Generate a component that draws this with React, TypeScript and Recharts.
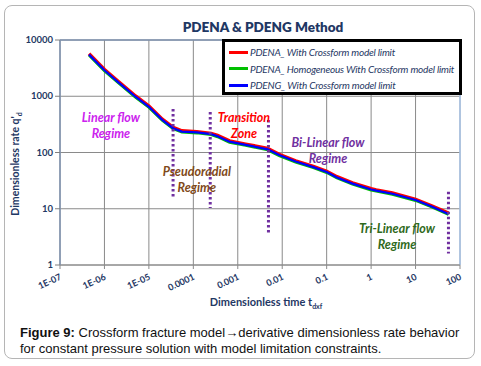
import React from 'react';
import {
  LineChart, Line, XAxis, YAxis, CartesianGrid, Legend, ReferenceLine, ReferenceDot,
} from 'recharts';

const time = [4.5e-7, 1e-6, 2e-6, 5e-6, 1e-5, 2e-5, 3.5e-5, 5.5e-5, 1.2e-4, 2.5e-4, 3.5e-4, 6.5e-4, 1.5e-3, 4.7e-3, 8.5e-3, 2e-2, 5e-2, 0.1, 0.17, 0.38, 1.0, 1.3, 3.0, 10, 23, 55];
const pdenaCross = [5680, 2990, 1860, 1010, 670, 392, 279, 243, 235, 219, 201, 161, 141, 118, 93, 71, 56.7, 46.4, 37.1, 28.9, 22.7, 21.6, 19.1, 14.7, 11.3, 8.35];
const pdenaHomog = [5340, 2810, 1745, 950, 630, 368, 262, 228, 221, 206, 189, 151, 133, 110.5, 87.3, 67, 53.4, 43.7, 34.9, 27.2, 21.3, 20.4, 17.9, 13.9, 10.7, 7.85];
const pdengCross = [5500, 2900, 1800, 980, 650, 380, 270, 235, 228, 212, 195, 156, 137, 114, 90, 69, 55, 45, 36, 28, 22, 21, 18.5, 14.3, 11, 8.1];

const xTicks = [1e-7, 1e-6, 1e-5, 1e-4, 1e-3, 1e-2, 0.1, 1, 10, 100];
const xTickLabels = ['1E-07', '1E-06', '1E-05', '0.0001', '0.001', '0.01', '0.1', '1', '10', '100'];
const yTicks = [1, 10, 100, 1000, 10000];
const yTickLabels = ['1', '10', '100', '1000', '10000'];

const seriesNames = [
  'PDENA_ With Crossform model limit',
  'PDENA_ Homogeneous With Crossform model limit',
  'PDENG_ With Crossform model limit',
];
const seriesColors = ['#ff0000', '#00c000', '#0000ff'];

// regime boundaries: [t, qTop, qBottom]
const boundaries = [
  [3.5e-5, 593, 15.5],
  [2.4e-4, 525, 10.3],
  [4.9e-3, 378, 3.4],
  [55, 20, 1.6],
];

// regime labels: [t, q, line1, line2, color]
const regimes: [number, number, string, string, string][] = [
  [1.4e-6, 308, 'Linear flow', 'Regime', '#cc22ee'],
  [1.2e-4, 33.8, 'Pseudoradial', 'Regime', '#7f4a1a'],
  [1.38e-3, 302, 'Transition', 'Zone', '#ff0000'],
  [0.107, 111, 'Bi-Linear flow', 'Regime', '#7030a0'],
  [3.83, 3.34, 'Tri-Linear flow', 'Regime', '#2f6a1c'],
];

const data = time.map((t, i) => ({
  t,
  a: pdenaCross[i],
  b: pdenaHomog[i],
  c: pdengCross[i],
}));

const NAVY = '#1f3864';
const FONT = 'Lato, "Open Sans", sans-serif';

const XTick = (props: any) => {
  const { x, y, payload } = props;
  const idx = xTicks.findIndex((v) => Math.abs(Math.log10(v) - Math.log10(payload.value)) < 1e-6);
  const label = idx >= 0 ? xTickLabels[idx] : String(payload.value);
  const ax = x + 2;
  const ay = y + 8;
  return (
    <text x={ax} y={ay} transform={`rotate(-25 ${ax} ${ay})`} textAnchor="end"
      fontFamily={FONT} fontSize={9} fontWeight={700} fill={NAVY}>{label}</text>
  );
};

const YTick = (props: any) => {
  const { x, y, payload } = props;
  const idx = yTicks.indexOf(payload.value);
  const label = idx >= 0 ? yTickLabels[idx] : String(payload.value);
  return (
    <text x={x} y={y + 3} textAnchor="end" fontFamily={FONT} fontSize={9.5} fontWeight={700} fill={NAVY}>{label}</text>
  );
};

const LegendBox = () => (
  <div style={{
    border: '3px solid #000', background: '#fff', width: 240, height: 56, boxSizing: 'border-box',
    paddingTop: 2, paddingLeft: 4,
  }}>
    {seriesNames.map((n, i) => (
      <div key={n} style={{ display: 'flex', alignItems: 'center', height: 16.5 }}>
        <div style={{ width: 19, height: 3, background: seriesColors[i], marginRight: 2 }} />
        <span style={{ fontFamily: FONT, fontStyle: 'italic', fontSize: 10, color: NAVY, whiteSpace: 'nowrap', letterSpacing: -0.2 }}>{n}</span>
      </div>
    ))}
  </div>
);

export default function App() {
  return (
    <div style={{ position: 'absolute', left: 0, top: 0, width: 481, height: 366, background: '#fff' }}>
      <div style={{
        position: 'absolute', left: 4, top: 5, width: 469, height: 352,
        border: '1px solid #b5b5b5', borderRadius: 8,
      }} />
      <div style={{
        position: 'absolute', left: 0, top: 19, width: 526, textAlign: 'center',
        fontFamily: FONT, fontWeight: 800, fontSize: 13.5, color: NAVY,
      }}>PDENA &amp; PDENG Method</div>
      <div style={{ position: 'absolute', left: 0, top: 0 }}>
        <LineChart width={481} height={300} data={data} margin={{ top: 40, right: 21, left: 0, bottom: 5 }}>
          <CartesianGrid stroke="#8a8a8a" strokeWidth={1} />
          <XAxis dataKey="t" type="number" scale="log" domain={[1e-7, 100]} ticks={xTicks}
            allowDataOverflow interval={0} height={30} tick={<XTick />} tickSize={4}
            axisLine={{ stroke: '#8a8a8a' }} tickLine={{ stroke: '#8a8a8a' }} />
          <YAxis type="number" scale="log" domain={[1, 10000]} ticks={yTicks} allowDataOverflow
            interval={0} width={60} tick={<YTick />} tickSize={5}
            axisLine={{ stroke: '#7f93b0', strokeWidth: 1.5 }} tickLine={{ stroke: '#7f7f7f' }} />
          <ReferenceLine y={10000} stroke="#7f93b0" strokeWidth={1.5} />
          <ReferenceLine x={100} stroke="#a9c4e8" strokeWidth={1.5} />
          <Legend layout="horizontal" verticalAlign="middle" align="center" content={<LegendBox />}
            wrapperStyle={{ position: 'absolute', left: 222, top: 39, width: 240, height: 56 }} />
          <Line dataKey="a" name={seriesNames[0]} stroke={seriesColors[0]} strokeWidth={3.5} dot={false} isAnimationActive={false} />
          <Line dataKey="b" name={seriesNames[1]} stroke={seriesColors[1]} strokeWidth={2.5} dot={false} isAnimationActive={false} />
          <Line dataKey="c" name={seriesNames[2]} stroke={seriesColors[2]} strokeWidth={2.2} dot={false} isAnimationActive={false} />
          {boundaries.map(([t, q1, q2], i) => (
            <ReferenceLine key={'b' + i} segment={[{ x: t, y: q1 }, { x: t, y: q2 }]}
              stroke="#7030a0" strokeWidth={3} strokeDasharray="2.5 2.5" ifOverflow="visible" />
          ))}
          {regimes.map(([t, q, l1, l2, col], i) => (
            <ReferenceDot key={'r' + i} x={t} y={q} r={0} ifOverflow="visible"
              shape={(p: any) => (
                <g>
                  <text x={p.cx} y={p.cy - 3} textAnchor="middle" fontFamily={FONT} fontSize={12.5}
                    fontWeight={700} fontStyle="italic" fill={col}>{l1}</text>
                  <text x={p.cx} y={p.cy + 13} textAnchor="middle" fontFamily={FONT} fontSize={12.5}
                    fontWeight={700} fontStyle="italic" fill={col}>{l2}</text>
                </g>
              )} />
          ))}
        </LineChart>
      </div>
      <svg style={{ position: 'absolute', left: 0, top: 0 }} width={481} height={366}>
        <text transform="rotate(-90 19 164)" x={19} y={164} textAnchor="middle" fontFamily={FONT}
          fontSize={10.5} fontWeight={700} fill={NAVY}>
          Dimensionless rate q'<tspan fontSize={7} dy={3}>d</tspan>
        </text>
        <text x={266} y={306} textAnchor="middle" fontFamily={FONT} fontSize={11} fontWeight={700} fill={NAVY}>
          Dimensionless time t<tspan fontSize={7} dy={3}>dxf</tspan>
        </text>
      </svg>
      <div style={{
        position: 'absolute', left: 20, top: 325, width: 455,
        fontFamily: '"Liberation Sans", Arial, sans-serif', fontSize: 13, lineHeight: '16px', color: '#111',
        whiteSpace: 'nowrap',
      }}>
        <div><b>Figure 9:</b><span> Crossform fracture model→derivative dimensionless rate behavior</span></div>
        <div>for constant pressure solution with model limitation constraints.</div>
      </div>
    </div>
  );
}
